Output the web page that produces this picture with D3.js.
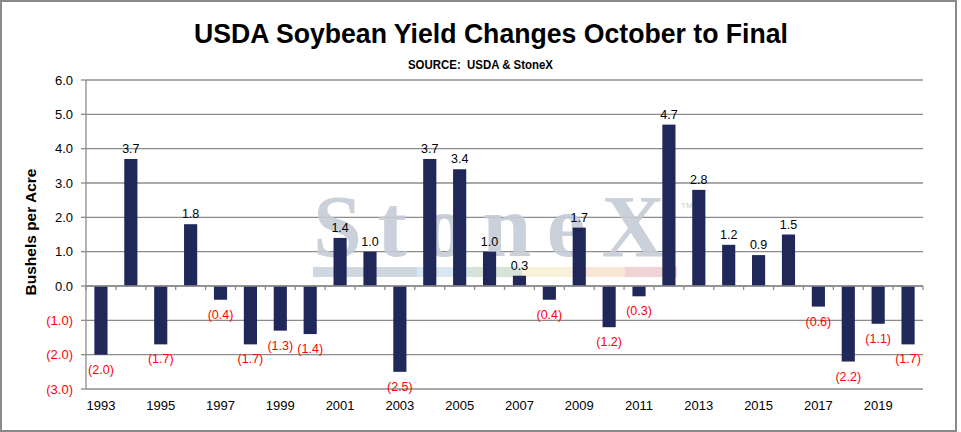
<!DOCTYPE html>
<html>
<head>
<meta charset="utf-8">
<script src="https://cdn.jsdelivr.net/npm/d3@7"></script>
<style>
  body { margin: 0; background: #fff; }
  svg { display: block; font-family: "Liberation Sans", Arial, sans-serif; }
</style>
</head>
<body>
<svg id="chart"></svg>
<script>
// Data
const years = [1993, 1994, 1995, 1996, 1997, 1998, 1999, 2000, 2001, 2002, 2003, 2004, 2005, 2006,
  2007, 2008, 2009, 2010, 2011, 2012, 2013, 2014, 2015, 2016, 2017, 2018, 2019, 2020];
const yieldChange = [-2.0, 3.7, -1.7, 1.8, -0.4, -1.7, -1.3, -1.4, 1.4, 1.0, -2.5, 3.7, 3.4, 1.0,
  0.3, -0.4, 1.7, -1.2, -0.3, 4.7, 2.8, 1.2, 0.9, 1.5, -0.6, -2.2, -1.1, -1.7];
const yTicks = [-3, -2, -1, 0, 1, 2, 3, 4, 5, 6];
const xTickLabels = [1993, 1995, 1997, 1999, 2001, 2003, 2005, 2007, 2009, 2011, 2013, 2015, 2017, 2019];

const data = years.map((y, i) => ({ year: y, value: yieldChange[i] }));

// Chart dimensions
const width = 961;
const height = 432;
const margin = { top: 80, right: 38, bottom: 43, left: 86 };
const chartWidth = width - margin.left - margin.right;
const chartHeight = height - margin.top - margin.bottom;

const fmt = (v) => (v < 0 ? "(" + d3.format(".1f")(-v) + ")" : d3.format(".1f")(v));

const xScale = d3
  .scaleBand()
  .domain(years)
  .range([margin.left, margin.left + chartWidth])
  .paddingInner(0.56)
  .paddingOuter(0.28);

const yScale = d3
  .scaleLinear()
  .domain([-3, 6])
  .range([margin.top + chartHeight, margin.top]);

const svg = d3.select("#chart").attr("width", width).attr("height", height);

// Outer frame
svg
  .append("rect")
  .attr("x", 1)
  .attr("y", 1)
  .attr("width", width - 6)
  .attr("height", height - 2)
  .attr("fill", "#fff")
  .attr("stroke", "#8a8a8a")
  .attr("stroke-width", 2);

// Gridlines
svg
  .append("g")
  .selectAll("line")
  .data(yTicks)
  .enter()
  .append("line")
  .attr("x1", margin.left)
  .attr("x2", margin.left + chartWidth)
  .attr("y1", (d) => yScale(d))
  .attr("y2", (d) => yScale(d))
  .attr("stroke", "#8c8c8c")
  .attr("stroke-width", 1.3);

// Watermark (logo, drawn under the bars)
const wm = svg.append("g");
wm.append("text")
  .attr("x", 313)
  .attr("y", 256)
  .attr("textLength", 352)
  .attr("lengthAdjust", "spacing")
  .style("font-family", "'Liberation Serif', 'DejaVu Serif', serif")
  .style("font-weight", "bold")
  .style("font-size", "88px")
  .attr("fill", "#c4ccd6")
  .attr("fill-opacity", 0.9)
  .text("StoneX");
wm.append("text")
  .attr("x", 681)
  .attr("y", 208)
  .style("font-size", "8px")
  .attr("fill", "#c3ccd6")
  .text("TM");
const stripe = [
  { x0: 313, x1: 417, c: "#cfd7e1" },
  { x0: 417, x1: 468, c: "#d9e7f2" },
  { x0: 468, x1: 522, c: "#d6e4d7" },
  { x0: 522, x1: 577, c: "#f7f2d9" },
  { x0: 577, x1: 625, c: "#f8e5d3" },
  { x0: 625, x1: 677, c: "#f1d2d5" },
];
wm.selectAll(".stripe")
  .data(stripe)
  .enter()
  .append("rect")
  .attr("x", (d) => d.x0)
  .attr("y", 267)
  .attr("width", (d) => d.x1 - d.x0)
  .attr("height", 10)
  .attr("fill", (d) => d.c);

// Bars
svg
  .selectAll(".bar")
  .data(data)
  .enter()
  .append("rect")
  .attr("class", "bar")
  .attr("x", (d) => xScale(d.year))
  .attr("width", xScale.bandwidth())
  .attr("y", (d) => yScale(Math.max(0, d.value)))
  .attr("height", (d) => Math.abs(yScale(d.value) - yScale(0)))
  .attr("fill", "#1f2859");

// Axes lines
svg
  .append("line")
  .attr("x1", margin.left)
  .attr("x2", margin.left)
  .attr("y1", margin.top)
  .attr("y2", margin.top + chartHeight)
  .attr("stroke", "#8c8c8c")
  .attr("stroke-width", 1.3);

svg
  .append("line")
  .attr("x1", margin.left)
  .attr("x2", margin.left + chartWidth)
  .attr("y1", yScale(0))
  .attr("y2", yScale(0))
  .attr("stroke", "#8c8c8c")
  .attr("stroke-width", 1.3);

// Y ticks and labels
const yAxisG = svg.append("g");
yAxisG
  .selectAll("line")
  .data(yTicks)
  .enter()
  .append("line")
  .attr("x1", margin.left - 5)
  .attr("x2", margin.left)
  .attr("y1", (d) => yScale(d))
  .attr("y2", (d) => yScale(d))
  .attr("stroke", "#8c8c8c")
  .attr("stroke-width", 1.3);
yAxisG
  .selectAll("text")
  .data(yTicks)
  .enter()
  .append("text")
  .attr("x", margin.left - 13)
  .attr("y", (d) => yScale(d) + 4.5)
  .attr("text-anchor", "end")
  .style("font-size", "13px")
  .attr("fill", (d) => (d < 0 ? "#ff0000" : "#000"))
  .text((d) => fmt(d));

// X ticks at band boundaries
const step = xScale.step();
const boundaries = years.map((y) => xScale(y) - (step - xScale.bandwidth()) / 2).concat([margin.left + chartWidth]);
svg
  .append("g")
  .selectAll("line")
  .data(boundaries)
  .enter()
  .append("line")
  .attr("x1", (d) => d)
  .attr("x2", (d) => d)
  .attr("y1", yScale(0))
  .attr("y2", yScale(0) + 4)
  .attr("stroke", "#8c8c8c")
  .attr("stroke-width", 1.3);

// X labels
svg
  .append("g")
  .selectAll("text")
  .data(xTickLabels)
  .enter()
  .append("text")
  .attr("x", (d) => xScale(d) + xScale.bandwidth() / 2)
  .attr("y", 410)
  .attr("text-anchor", "middle")
  .style("font-size", "13px")
  .attr("fill", "#000")
  .text((d) => d);

// Data labels
svg
  .selectAll(".val")
  .data(data)
  .enter()
  .append("text")
  .attr("class", "val")
  .attr("x", (d) => xScale(d.year) + xScale.bandwidth() / 2)
  .attr("y", (d) => (d.value >= 0 ? yScale(d.value) - 6 : yScale(d.value) + 19))
  .attr("text-anchor", "middle")
  .style("font-size", "12.5px")
  .attr("fill", (d) => (d.value < 0 ? "#ff0000" : "#000"))
  .text((d) => fmt(d.value));

// Title (condensed to the original's narrow face)
svg
  .append("text")
  .attr("x", 194)
  .attr("y", 43)
  .attr("textLength", 594)
  .attr("lengthAdjust", "spacingAndGlyphs")
  .style("font-weight", "bold")
  .style("font-size", "28px")
  .text("USDA Soybean Yield Changes October to Final");

svg
  .append("text")
  .attr("x", 408)
  .attr("y", 69)
  .attr("textLength", 145)
  .attr("lengthAdjust", "spacingAndGlyphs")
  .style("font-weight", "bold")
  .style("font-size", "12px")
  .style("white-space", "pre")
  .text("SOURCE:  USDA & StoneX");

// Y-axis label
svg
  .append("text")
  .attr("transform", "translate(36,232) rotate(-90)")
  .attr("text-anchor", "middle")
  .style("font-weight", "bold")
  .style("font-size", "15.5px")
  .text("Bushels per Acre");
</script>
</body>
</html>
